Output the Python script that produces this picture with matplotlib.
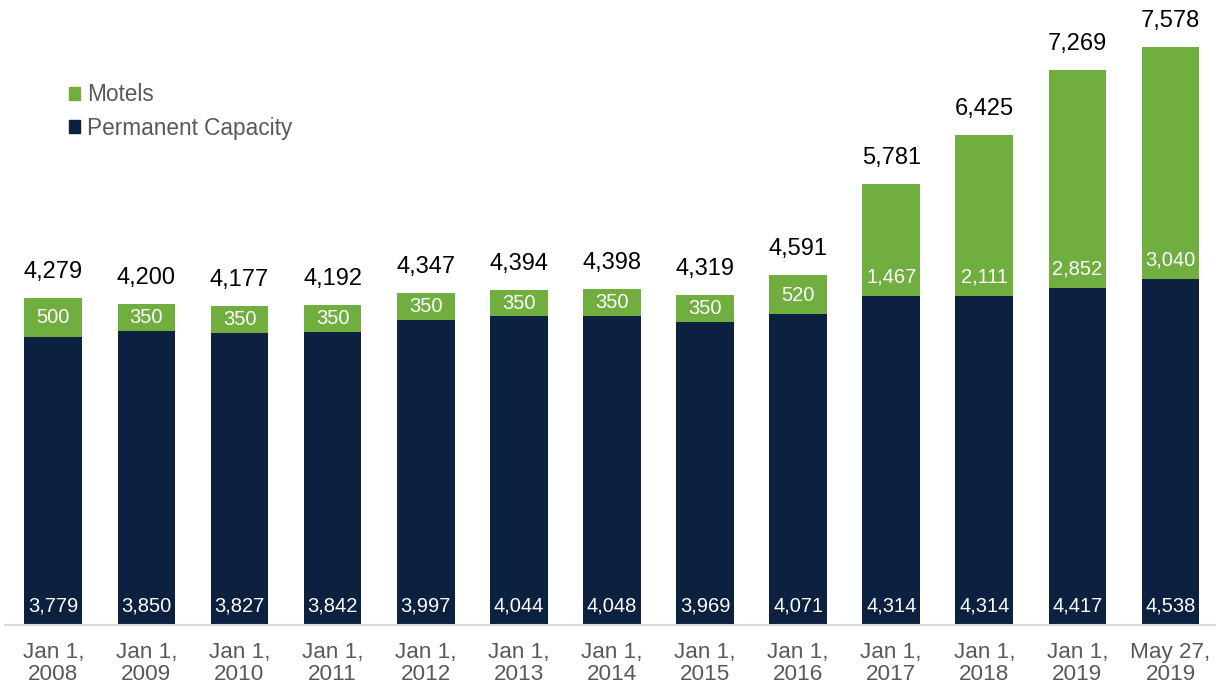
import matplotlib.pyplot as plt
from matplotlib.patches import Rectangle

plt.rcParams['font.family'] = ['Liberation Sans', 'DejaVu Sans']

labels = ["Jan 1,\n2008", "Jan 1,\n2009", "Jan 1,\n2010", "Jan 1,\n2011",
          "Jan 1,\n2012", "Jan 1,\n2013", "Jan 1,\n2014", "Jan 1,\n2015",
          "Jan 1,\n2016", "Jan 1,\n2017", "Jan 1,\n2018", "Jan 1,\n2019",
          "May 27,\n2019"]
permanent = [3779, 3850, 3827, 3842, 3997, 4044, 4048, 3969, 4071, 4314, 4314, 4417, 4538]
motels = [500, 350, 350, 350, 350, 350, 350, 350, 520, 1467, 2111, 2852, 3040]

navy = "#0c2140"
green = "#70ae3f"
grey = "#595959"

fig = plt.figure(figsize=(12.25, 6.9), dpi=100)
ax = fig.add_axes([0.004, 0.0942, 0.988, 0.9058])

x = list(range(len(labels)))
w = 0.62
ax.bar(x, permanent, width=w, color=navy)
ax.bar(x, motels, width=w, bottom=permanent, color=green)

ax.set_xlim(-0.52, len(labels) - 0.52)
ax.set_ylim(0, 8190)

# segment labels sit near the base of each segment
off = 250
for i in x:
    p, m = permanent[i], motels[i]
    ax.text(i, min(off, p / 2), f"{p:,}", ha='center', va='center',
            color='white', fontsize=14.5)
    ax.text(i, p + min(off, m / 2), f"{m:,}", ha='center', va='center',
            color='white', fontsize=14.5)
    ax.annotate(f"{p + m:,}", (i, p + m), xytext=(0, 26),
                textcoords='offset pixels', ha='center', va='center',
                color='black', fontsize=17)

ax.set_xticks(x)
ax.set_xticklabels(labels, color=grey, fontsize=16.2, linespacing=1.08)
ax.tick_params(axis='x', length=0, pad=12)
ax.set_yticks([])

for s in ['top', 'right', 'left']:
    ax.spines[s].set_visible(False)
ax.spines['bottom'].set_color('#d9d9d9')
ax.spines['bottom'].set_linewidth(1.5)

handles = [Rectangle((0, 0), 1, 1, color=green),
           Rectangle((0, 0), 1, 1, color=navy)]
leg = ax.legend(handles, ["Motels", "Permanent Capacity"], loc='upper left',
                bbox_to_anchor=(0.056, 0.879), bbox_transform=fig.transFigure,
                frameon=False, fontsize=16.3, handlelength=0.5,
                handleheight=0.5, handletextpad=0.3, labelspacing=0.45,
                borderaxespad=0, borderpad=0)
for t in leg.get_texts():
    t.set_color(grey)

fig.savefig("out.png", dpi=100)
